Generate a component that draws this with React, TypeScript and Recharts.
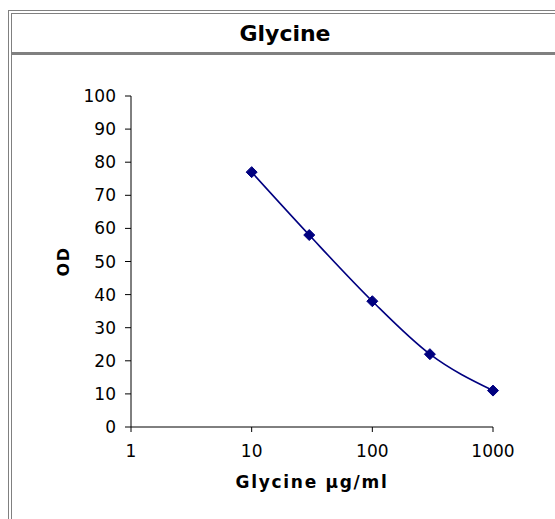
import { LineChart, Line, XAxis, YAxis, Label } from 'recharts';

// Glycine concentration (µg/ml) vs OD
const concentrations = [10, 30, 100, 300, 1000];
const odValues = [77, 58, 38, 22, 11];
const xTicks = [1, 10, 100, 1000];
const yTicks = [0, 10, 20, 30, 40, 50, 60, 70, 80, 90, 100];

const data = concentrations.map((c, i) => ({ conc: c, od: odValues[i] }));

const NAVY = '#000080';
const FRAME = '#808080';
const FONT = '"DejaVu Sans", Verdana, sans-serif';

const Diamond = (props: any) => {
  const { cx, cy, index } = props;
  if (cx == null || cy == null) return <g key={`d-${index}`} />;
  const r = 5.5;
  return (
    <polygon
      key={`d-${index}`}
      points={`${cx},${cy - r} ${cx + r},${cy} ${cx},${cy + r} ${cx - r},${cy}`}
      fill={NAVY}
      stroke={NAVY}
    />
  );
};

const YTitle = (props: any) => {
  const vb = props.viewBox || { x: 0, y: 96, width: 131, height: 331 };
  const x = vb.x + 63;
  const y = vb.y + vb.height / 2;
  return (
    <text
      x={x}
      y={y}
      transform={`rotate(-90 ${x} ${y})`}
      textAnchor="middle"
      dominantBaseline="central"
      fontFamily={FONT}
      fontWeight="bold"
      fontSize={16}
      letterSpacing={1.5}
      fill="#000"
    >
      OD
    </text>
  );
};

export default function App() {
  return (
    <div
      style={{
        position: 'absolute',
        left: 0,
        top: 0,
        width: 555,
        height: 519,
        overflow: 'hidden',
        background: '#fff',
      }}
    >
      <div style={{ position: 'absolute', left: 8, top: 10, width: 700, height: 700, border: `1px solid ${FRAME}` }} />
      <div style={{ position: 'absolute', left: 11, top: 13, width: 700, height: 700, border: `1px solid ${FRAME}` }} />
      <div style={{ position: 'absolute', left: 12, top: 52, width: 700, height: 3, background: FRAME }} />
      <div
        style={{
          position: 'absolute',
          left: 12,
          top: 14,
          width: 546,
          height: 38,
          display: 'flex',
          alignItems: 'center',
          justifyContent: 'center',
          fontFamily: FONT,
          fontWeight: 'bold',
          fontSize: 22,
          color: '#000',
        }}
      >
        Glycine
      </div>
      <div style={{ position: 'absolute', left: 0, top: 0 }}>
        <LineChart width={555} height={519} data={data} margin={{ top: 96, right: 62, bottom: 0, left: 0 }}>
          <XAxis
            dataKey="conc"
            type="number"
            scale="log"
            domain={[1, 1000]}
            ticks={xTicks}
            height={92}
            tickSize={5}
            tickMargin={13}
            axisLine={{ stroke: '#000' }}
            tickLine={{ stroke: '#000' }}
            tick={{ fontSize: 17, fill: '#000', fontFamily: FONT }}
            interval={0}
          >
            <Label
              value="Glycine µg/ml"
              position="insideBottom"
              offset={31}
              fontFamily={FONT}
              fontWeight="bold"
              fontSize={17}
              letterSpacing={1.7}
              fill="#000"
            />
          </XAxis>
          <YAxis
            type="number"
            domain={[0, 100]}
            ticks={yTicks}
            width={131}
            tickSize={6}
            tickMargin={9}
            axisLine={{ stroke: '#000' }}
            tickLine={{ stroke: '#000' }}
            tick={{ fontSize: 17, fill: '#000', fontFamily: FONT }}
            interval={0}
          >
            <Label content={<YTitle />} />
          </YAxis>
          <Line
            type="monotone"
            dataKey="od"
            stroke={NAVY}
            strokeWidth={1.6}
            dot={Diamond}
            activeDot={false}
            isAnimationActive={false}
          />
        </LineChart>
      </div>
    </div>
  );
}
